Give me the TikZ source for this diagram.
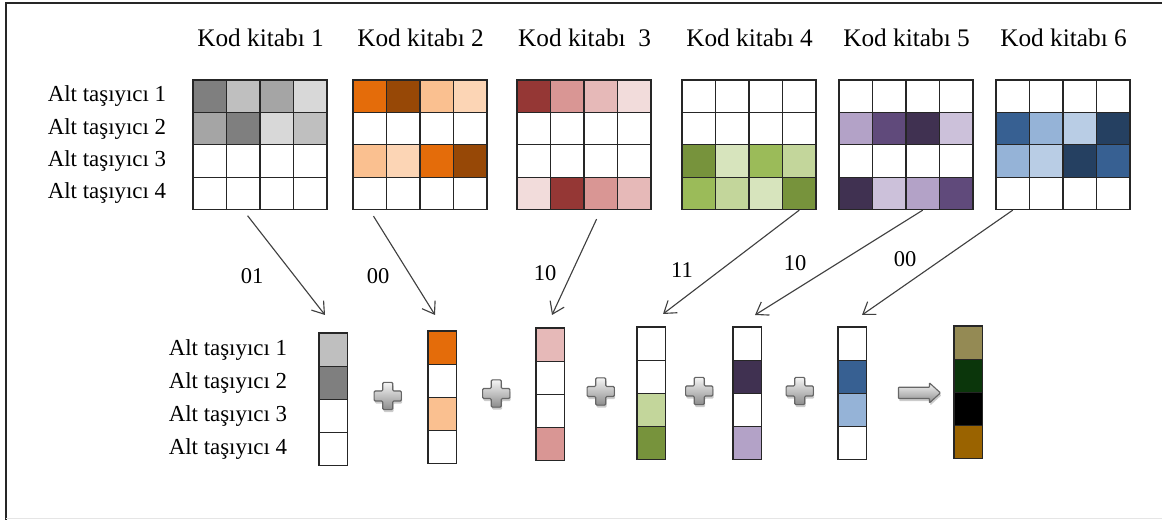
\documentclass[tikz,border=0pt]{standalone}
\usepackage{fontspec}
\setmainfont{LiberationSerif}[Extension=.ttf, UprightFont=*-Regular, BoldFont=*-Bold]
\usepackage{tikz}
\usetikzlibrary{positioning,shapes,arrows.meta,calc,shadows}

% codebook shades
\definecolor{grayA}{HTML}{7F7F7F}
\definecolor{grayB}{HTML}{A5A5A5}
\definecolor{grayC}{HTML}{BFBFBF}
\definecolor{grayD}{HTML}{D8D8D8}
\definecolor{orgA}{HTML}{E46C0A}
\definecolor{orgB}{HTML}{974806}
\definecolor{orgC}{HTML}{FAC090}
\definecolor{orgD}{HTML}{FCD5B5}
\definecolor{redA}{HTML}{953735}
\definecolor{redB}{HTML}{D99694}
\definecolor{redC}{HTML}{E6B9B8}
\definecolor{redD}{HTML}{F2DCDB}
\definecolor{grnA}{HTML}{77933C}
\definecolor{grnB}{HTML}{9BBB59}
\definecolor{grnC}{HTML}{C3D69B}
\definecolor{grnD}{HTML}{D7E4BD}
\definecolor{purA}{HTML}{403151}
\definecolor{purB}{HTML}{604A7B}
\definecolor{purC}{HTML}{B3A2C7}
\definecolor{purD}{HTML}{CCC1DA}
\definecolor{bluA}{HTML}{254061}
\definecolor{bluB}{HTML}{376092}
\definecolor{bluC}{HTML}{95B3D7}
\definecolor{bluD}{HTML}{B9CDE5}
\definecolor{mixA}{HTML}{948A54}
\definecolor{mixB}{HTML}{0B360B}
\definecolor{mixD}{HTML}{9A6300}

\tikzstyle{cell}=[rectangle, draw=black!85, line width=0.8pt, minimum width=0.8375cm, minimum height=0.81cm, inner sep=0pt]
\tikzstyle{slot}=[rectangle, draw=black!85, line width=0.8pt, minimum width=0.7125cm, minimum height=0.83cm, inner sep=0pt]
\tikzstyle{book}=[font=\fontsize{18}{20}\selectfont, inner sep=0pt]
\tikzstyle{sub}=[font=\fontsize{16.3}{18}\selectfont, inner sep=0pt]
\tikzstyle{bits}=[font=\fontsize{16}{18}\selectfont, inner sep=0pt]
\tikzstyle{link}=[->, draw=black!75, line width=0.8pt]
\tikzstyle{knob}=[draw=black!60, line width=0.8pt, rounded corners=0.8pt, top color=black!4, bottom color=black!45, drop shadow={opacity=0.4, shadow xshift=0.6pt, shadow yshift=-1.8pt}]

\begin{document}
\begin{tikzpicture}[%
    >={Straight Barb[length=8pt,width=11pt]},
    auto
  ]
  \useasboundingbox (0,0) rectangle (29.05,13);
  %frame
  \draw[black!85, line width=1.3pt] (29.05,12.925) -- (0.15,12.925) -- (0.15,0);
  \draw[black!10] (0.15,0.05) -- (29.05,0.05);

  %Codebooks, 4x4 cells each, row by row
  \foreach \k/\x/\cols in {
    1/4.825/{grayA,grayC,grayB,grayD,grayB,grayA,grayD,grayC,white,white,white,white,white,white,white,white},
    2/8.825/{orgA,orgB,orgC,orgD,white,white,white,white,orgC,orgD,orgA,orgB,white,white,white,white},
    3/12.925/{redA,redB,redC,redD,white,white,white,white,white,white,white,white,redD,redA,redB,redC},
    4/17.05/{white,white,white,white,white,white,white,white,grnA,grnD,grnB,grnC,grnB,grnC,grnD,grnA},
    5/20.975/{white,white,white,white,purC,purB,purA,purD,white,white,white,white,purA,purD,purC,purB},
    6/24.9/{white,white,white,white,bluB,bluC,bluD,bluA,bluC,bluD,bluA,bluB,white,white,white,white}}
  {
    \foreach \clr [count=\i from 0] in \cols {
      \pgfmathtruncatemacro{\rw}{\i/4+1}
      \pgfmathtruncatemacro{\cl}{mod(\i,4)+1}
      \node[cell, fill=\clr] (k\k-\rw-\cl) at ({\x+(\cl-0.5)*0.8375}, {11-(\rw-0.5)*0.81}) {};
    }
  }
  \foreach \k/\name in {1/Kod kitabı 1, 2/Kod kitabı 2, 3/Kod kitabı~ 3, 4/Kod kitabı 4, 5/Kod kitabı 5, 6/Kod kitabı 6}
    \node[book, anchor=base] (t\k) at ($(k\k-1-2.north east)+(0,0.82)$) {\name};
  \foreach \rw in {1,...,4}
    \node[sub, left=0.65cm of k1-\rw-1.west] (a\rw) {Alt taşıyıcı \rw};

  %Chosen columns
  \foreach \v/\x/\y/\cols in {
    1/7.975/4.675/{grayC,grayA,white,white},
    2/10.7/4.725/{orgA,white,orgC,white},
    3/13.4/4.8/{redC,white,white,redB},
    4/15.925/4.825/{white,white,grnC,grnA},
    5/18.325/4.825/{white,purA,white,purC},
    6/20.95/4.825/{white,bluB,bluC,white}}
  {
    \foreach \clr [count=\rw] in \cols
      \node[slot, fill=\clr] (v\v-\rw) at ({\x+0.356}, {\y-(\rw-0.5)*0.83}) {};
  }
  \foreach \clr [count=\rw] in {mixA,mixB,black,mixD}
    \node[slot, fill=\clr] (r-\rw) at (24.206, {4.85-(\rw-0.5)*0.83}) {};
  \foreach \rw in {1,...,4}
    \node[sub, left=0.775cm of v1-\rw.west] (b\rw) {Alt taşıyıcı \rw};

  %Arrows from codebook to column
  \coordinate (e1) at (8.125,5.125);
  \coordinate (e2) at (10.875,5.125);
  \coordinate (e3) at (13.8,5.125);
  \coordinate (e4) at (16.575,5.15);
  \coordinate (e5) at (18.875,5.125);
  \coordinate (e6) at (21.55,5.125);
  \foreach \k/\cl/\gap in {1/2/5pt, 2/1/5pt, 3/3/7pt, 4/4/0pt, 5/3/0pt, 6/1/0pt}
    \draw[link, shorten <=\gap] (k\k-4-\cl.south) -- (e\k);
  \node[bits] (s1) at (6.3,6.1) {01};
  \node[bits] (s2) at (9.45,6.1) {00};
  \node[bits] (s3) at (13.625,6.175) {10};
  \node[bits] (s4) at (17.05,6.25) {11};
  \node[bits] (s5) at (19.875,6.425) {10};
  \node[bits] (s6) at (22.625,6.525) {00};

  %plus signs
  \foreach \i [count=\j from 2] in {1,...,5} {
    \coordinate (p\i) at ($(v\i-2.south east)!0.5!(v\j-3.north west)+(0,0.06)$);
    \begin{scope}[shift={(p\i)}]
      \filldraw[knob] (-0.125,0.34) -- (0.125,0.34) -- (0.125,0.125) -- (0.34,0.125) -- (0.34,-0.125) -- (0.125,-0.125) -- (0.125,-0.34) -- (-0.125,-0.34) -- (-0.125,-0.125) -- (-0.34,-0.125) -- (-0.34,0.125) -- (-0.125,0.125) -- cycle;
    \end{scope}
  }
  %sum arrow
  \coordinate (go) at ($(v6-2.south east)!0.5!(r-3.north west)+(0.23,0)$);
  \begin{scope}[shift={(go)}]
    \filldraw[knob, rounded corners=0.5pt] (-0.525,0.14) -- (0.25,0.14) -- (0.25,0.25) -- (0.525,0) -- (0.25,-0.25) -- (0.25,-0.14) -- (-0.525,-0.14) -- cycle;
  \end{scope}
\end{tikzpicture}
\end{document}
